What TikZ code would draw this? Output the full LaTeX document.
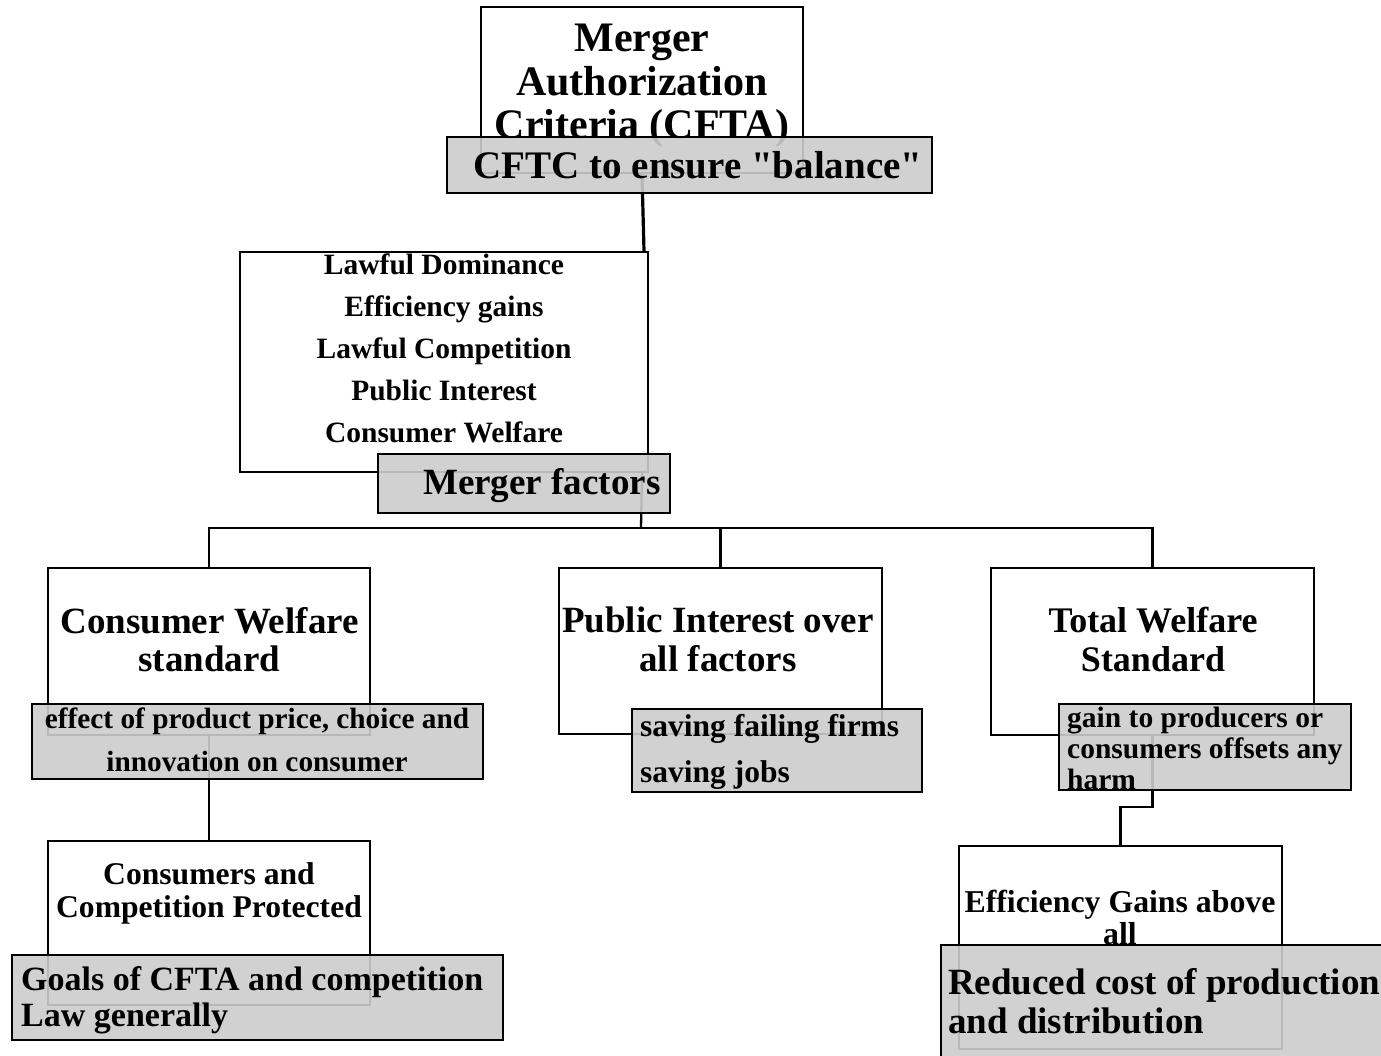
\documentclass[tikz,border=0pt]{standalone}
\usepackage{fontspec}
\setmainfont{Liberation Serif}[Ligatures=TeXOff]
\usetikzlibrary{calc}

\tikzset{
  wbox/.style={draw, line width=2, fill=white, inner sep=0},
  gbox/.style={draw, line width=2, fill=black!20, fill opacity=0.9, inner sep=0},
  txt/.style={inner sep=0, anchor=base},
  ltxt/.style={inner sep=0, anchor=base west, align=left},
  link/.style={line width=2.3},
}
\newcommand{\fsz}[2]{\bfseries\fontsize{#1}{#2}\selectfont}

\begin{document}
\begin{tikzpicture}[x=1pt, y=-1pt]
        \useasboundingbox (0,0) rectangle (1381,1056);

        \node[wbox, minimum width=322, minimum height=166] (crit) at (642,90) {};
        \node[wbox, minimum width=408, minimum height=220] (factors) at (444,362) {};
        \node[wbox, minimum width=322, minimum height=167] (cws) at (209,651.5) {};
        \node[wbox, minimum width=323, minimum height=166] (pis) at (720.5,651) {};
        \node[wbox, minimum width=323, minimum height=167] (tws) at (1152.5,651.5) {};
        \node[wbox, minimum width=322, minimum height=164] (ccp) at (209,923) {};
        \node[wbox, minimum width=323, minimum height=203] (effg) at (1120.5,947.5) {};

        % base anchor sits on the last line
        \node[txt, align=center, font=\fsz{42}{43.5}] (critT) at (642,139)
            {Merger\\Authorization\\Criteria (CFTA)};
        \node[txt, align=center, font=\fsz{29.5}{41.8}] (factorsT) at (444,442)
            {Lawful Dominance\\Efficiency gains\\Lawful Competition\\Public Interest\\Consumer Welfare};
        \node[txt, align=center, font=\fsz{37}{38}] (cwsT) at (209.5,671)
            {Consumer Welfare\\standard};
        \node[txt, align=center, font=\fsz{37}{39}] (pisT) at (718,671)
            {Public Interest over\\all factors};
        \node[txt, align=center, font=\fsz{36}{39}] (twsT) at (1153,671)
            {Total Welfare\\Standard};
        \node[txt, align=center, font=\fsz{31.6}{33}] (ccpT) at (209,917)
            {Consumers and\\Competition Protected};
        \node[txt, align=center, font=\fsz{31.8}{32}] (effgT) at (1120,944)
            {Efficiency Gains above\\all};

        \coordinate (bus) at (641,528);
        \draw[link, line width=3.2] (crit.south) -- ([xshift=2pt]crit.south |- factors.north);
        \draw[link] ([xshift=-7pt]factors.south east) -- (bus);
        \draw[link] (cws.north) |- (bus) -| (tws.north);
        \draw[link] (pis.north) -- (pis.north |- bus);
        \draw[link] (cws.south) -- (ccp.north);
        \draw[link] (tws.south) -- ++(0,71) -| (effg.north);

        \node[gbox, minimum width=485, minimum height=56] (balance) at (689.5,165) {};
        \node[gbox, minimum width=292, minimum height=59] (mfactors) at (524,483.5) {};
        \node[gbox, minimum width=451, minimum height=75] (effect) at (257.5,741.5) {};
        \node[gbox, minimum width=290, minimum height=83] (saving) at (777,750.5) {};
        \node[gbox, minimum width=292, minimum height=86] (gain) at (1205,747) {};
        \node[gbox, minimum width=491, minimum height=85] (goals) at (257.5,997.5) {};
        \node[gbox, minimum width=459, minimum height=125] (reduced) at (1170.5,1007.5) {};

        \node[txt, font=\fsz{39}{40}] (balanceT) at (698,179) {CFTC to ensure "balance"};
        \node[ltxt, font=\fsz{37}{38}] (mfactorsT) at (423,494) {Merger factors};
        \node[txt, align=center, font=\fsz{29.3}{43.5}] (effectT) at (257,771.5)
            {effect of product price, choice and\\innovation on consumer};
        \node[ltxt, font=\fsz{31.5}{46}] (savingT) at (640,782)
            {saving failing firms\\saving jobs};
        \node[ltxt, font=\fsz{29.5}{31}] (gainT) at (1067,789)
            {gain to producers or\\consumers offsets any\\harm};
        \node[ltxt, font=\fsz{34}{36}] (goalsT) at (21,1026)
            {Goals of CFTA and competition\\Law generally};
        \node[ltxt, font=\fsz{37}{39}] (reducedT) at (948,1033)
            {Reduced cost of production\\and distribution};

    \end{tikzpicture}
\end{document}
